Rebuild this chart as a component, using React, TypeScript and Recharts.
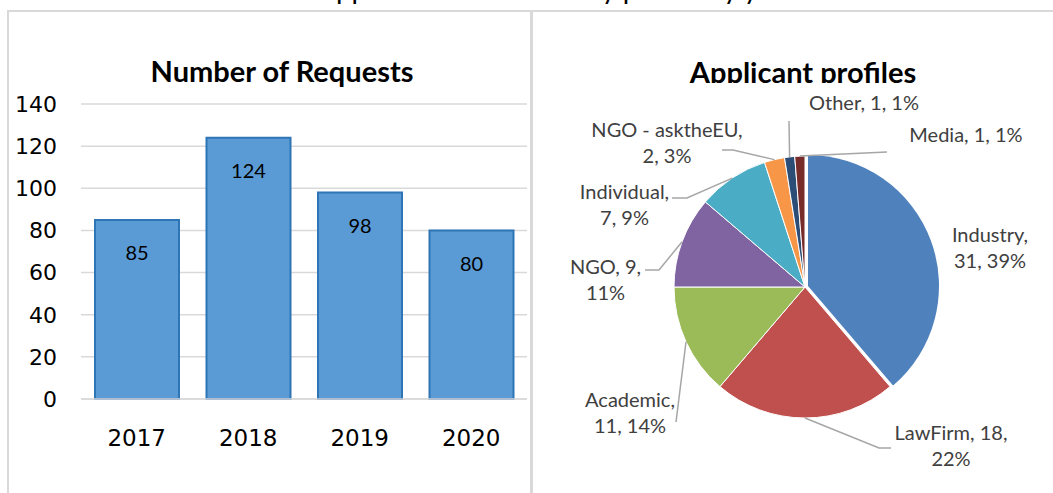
import React from 'react';
import { BarChart, Bar, XAxis, YAxis, CartesianGrid, LabelList, PieChart, Pie, Cell } from 'recharts';

// ---- Data ----
const years = ['2017', '2018', '2019', '2020'];
const requests = [85, 124, 98, 80];
const yTicks = [0, 20, 40, 60, 80, 100, 120, 140];

const profileNames = ['Industry', 'LawFirm', 'Academic', 'NGO', 'Individual', 'NGO - asktheEU', 'Other', 'Media'];
const profileCounts = [31, 18, 11, 9, 7, 2, 1, 1];
const profilePercents = [39, 22, 14, 11, 9, 3, 1, 1];
const profileColors = ['#4f81bd', '#c0504d', '#9bbb59', '#8064a2', '#4bacc6', '#f79646', '#2c4d75', '#772c2a'];

const barData = years.map((y, i) => ({ year: y, value: requests[i] }));
const pieData = profileNames.map((n, i) => ({ name: n, value: profileCounts[i], pct: profilePercents[i] }));

// ---- Label layout (text placement relative to pie centre, leader elbows) ----
const labelLayout = [
  { split: 1, tx: 185, ty: -53, leader: null },
  { split: 2, tx: 146, ty: 145, leader: [[74, 161], [86, 161]] },
  { split: 1, tx: -175, ty: 112, leader: [[-129, 135]] },
  { split: 2, tx: -199.5, ty: -21, leader: [[-146, -17], [-160, -17]] },
  { split: 1, tx: -180.5, ty: -96, leader: [[-118, -89], [-133, -89]] },
  { split: 1, tx: -138, ty: -158.4, leader: [[-72, -137], [-83, -137]] },
  { split: 3, tx: 59, ty: -185, leader: [[-16, -166]] },
  { split: 3, tx: 161, ty: -153, leader: [[82, -135]] },
];

const LABEL_FONT = 'Lato, "Open Sans", sans-serif';
const AXIS_FONT = '"DejaVu Sans", Verdana, sans-serif';
const RAD = Math.PI / 180;

const renderPieLabel = (props: any) => {
  const { cx, cy, midAngle, outerRadius, index } = props;
  const d = pieData[index];
  const lay = labelLayout[index];
  const parts = [`${d.name},`, `${d.value},`, `${d.pct}%`];
  const lines = [parts.slice(0, lay.split).join(' '), parts.slice(lay.split).join(' ')].filter((s) => s.length > 0);
  const sx = cx + outerRadius * Math.cos(-midAngle * RAD);
  const sy = cy + outerRadius * Math.sin(-midAngle * RAD);
  let path = '';
  if (lay.leader) {
    path = `M${sx},${sy}` + lay.leader.map((p) => ` L${cx + p[0]},${cy + p[1]}`).join('');
  }
  return (
    <g key={`lbl-${index}`}>
      {path && <path d={path} stroke="#a6a6a6" strokeWidth={1.5} fill="none" />}
      {lines.map((ln, li) => (
        <text
          key={li}
          x={cx + lay.tx}
          y={cy + lay.ty + li * 26}
          textAnchor="middle"
          dominantBaseline="central"
          fontFamily={LABEL_FONT}
          fontSize={20}
          fill="#404040"
        >
          {ln}
        </text>
      ))}
    </g>
  );
};

const ZERO = { top: 0, right: 0, bottom: 0, left: 0 };

export default function App() {
  return (
    <div style={{ position: 'fixed', left: 0, top: 0, width: 1053, height: 493, background: '#fff', overflow: 'hidden' }}>
      {/* clipped page title above the charts */}
      <svg width={1053} height={12} style={{ position: 'absolute', left: 0, top: 0 }}>
        <text x={317} y={-1} fontFamily={LABEL_FONT} fontSize={28} fill="#000">
          Applications received by profile by year
        </text>
      </svg>

      {/* frame lines */}
      <div style={{ position: 'absolute', left: 7, top: 10, width: 1046, height: 2, background: '#d9d9d9' }} />
      <div style={{ position: 'absolute', left: 7, top: 10, width: 2, height: 483, background: '#d9d9d9' }} />
      <div style={{ position: 'absolute', left: 530, top: 10, width: 3, height: 483, background: '#d9d9d9' }} />

      {/* Bar chart */}
      <div style={{ position: 'absolute', left: 0, top: 0 }}>
        <BarChart width={531} height={493} data={barData} margin={{ top: 104, right: 4, bottom: 64, left: 21 }}>
          <CartesianGrid vertical={false} stroke="#d9d9d9" strokeWidth={1.5} />
          <XAxis
            dataKey="year"
            axisLine={{ stroke: '#d9d9d9', strokeWidth: 1.5 }}
            tickLine={false}
            tick={{ fontSize: 23, fill: '#000', fontFamily: AXIS_FONT }}
            tickMargin={25}
            height={30}
          />
          <YAxis
            domain={[0, 140]}
            ticks={yTicks}
            interval={0}
            axisLine={false}
            tickLine={false}
            width={60}
            tickMargin={18}
            tick={{ fontSize: 22, fill: '#000', fontFamily: AXIS_FONT }}
          />
          <Bar dataKey="value" fill="#5b9bd5" stroke="#2e75b6" strokeWidth={2} barSize={84} isAnimationActive={false}>
            <LabelList dataKey="value" position="insideTop" offset={26} fill="#000" fontSize={20} fontFamily={LABEL_FONT} />
          </Bar>
        </BarChart>
      </div>
      <svg width={531} height={95} style={{ position: 'absolute', left: 0, top: 0 }}>
        <text x={282} y={82} textAnchor="middle" fontFamily={LABEL_FONT} fontWeight={700} fontSize={29} fill="#000">
          Number of Requests
        </text>
      </svg>

      {/* Pie chart */}
      <div style={{ position: 'absolute', left: 531, top: 0 }}>
        <PieChart width={522} height={493} margin={ZERO}>
          <Pie
            data={pieData}
            dataKey="value"
            nameKey="name"
            cx={277}
            cy={286}
            outerRadius={131}
            startAngle={90}
            endAngle={-270}
            stroke="none"
            label={false}
            labelLine={false}
            isAnimationActive={false}
          >
            {pieData.map((d, i) => (
              <Cell key={i} fill={i === 0 ? profileColors[i] : 'none'} />
            ))}
          </Pie>
          <Pie
            data={pieData}
            dataKey="value"
            nameKey="name"
            cx={274}
            cy={287}
            outerRadius={131}
            startAngle={90}
            endAngle={-270}
            stroke="#fff"
            strokeWidth={1}
            label={renderPieLabel}
            labelLine={false}
            isAnimationActive={false}
          >
            {pieData.map((d, i) => (
              <Cell key={i} fill={i === 0 ? 'none' : profileColors[i]} stroke={i === 0 ? 'none' : '#fff'} />
            ))}
          </Pie>
        </PieChart>
      </div>
      <svg width={522} height={83} style={{ position: 'absolute', left: 531, top: 0 }}>
        <text x={272} y={82.5} textAnchor="middle" fontFamily={LABEL_FONT} fontWeight={700} fontSize={29} fill="#000">
          Applicant profiles
        </text>
      </svg>
    </div>
  );
}
